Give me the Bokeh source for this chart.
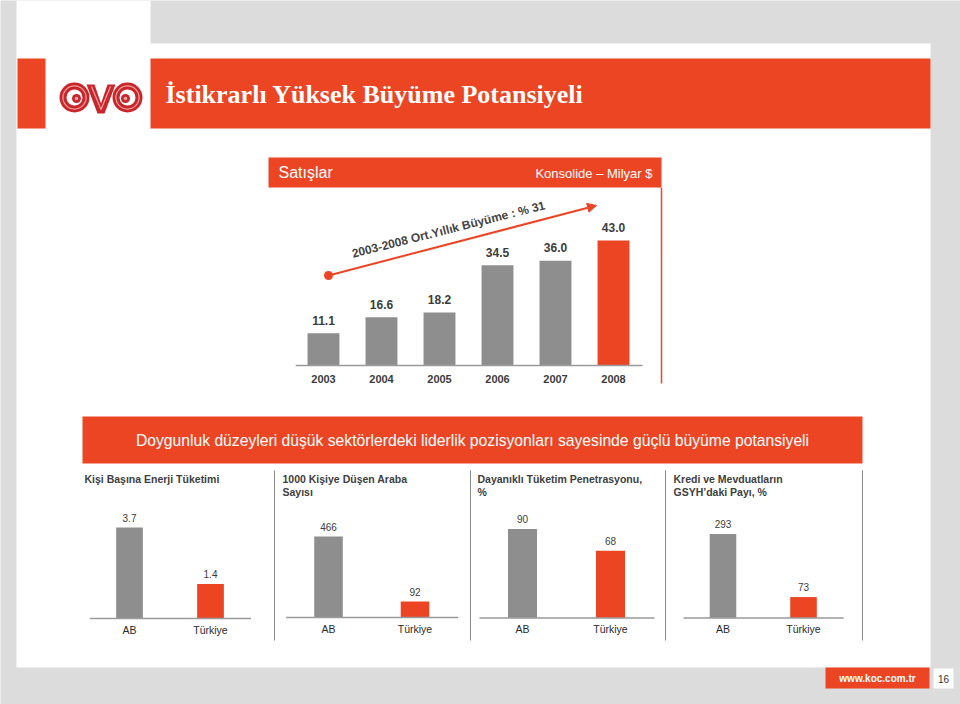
from bokeh.plotting import figure
from bokeh.models import Range1d, Arrow, NormalHead, ColumnDataSource
from bokeh.core.properties import value
from bokeh.embed import file_html
from bokeh.resources import INLINE

# ---------------- data ----------------
title = "İstikrarlı Yüksek Büyüme Potansiyeli"
sales_header = "Satışlar"
sales_unit = "Konsolide – Milyar $"
growth_note = "2003-2008 Ort.Yıllık Büyüme : % 31"
years = ["2003", "2004", "2005", "2006", "2007", "2008"]
sales = [11.1, 16.6, 18.2, 34.5, 36.0, 43.0]
headline = "Doygunluk düzeyleri düşük sektörlerdeki liderlik pozisyonları sayesinde güçlü büyüme potansiyeli"
countries = ["AB", "Türkiye"]
energy = [3.7, 1.4]
cars = [466, 92]
durables = [90, 68]
credit = [293, 73]
panel_titles = [
    ["Kişi Başına Enerji Tüketimi"],
    ["1000 Kişiye Düşen Araba", "Sayısı"],
    ["Dayanıklı Tüketim Penetrasyonu,", "%"],
    ["Kredi ve Mevduatların", "GSYH’daki Payı, %"],
]
footer_url = "www.koc.com.tr"
page_no = "16"

# ---------------- style ----------------
W, H = 960, 704
ORANGE = "#EB4524"
GRAY_BAR = "#8E8E8E"
BG = "#DCDCDC"
TXT = "#3C3C3C"
SANS = value("Liberation Sans")
SERIF = value("Liberation Serif")

p = figure(width=W, height=H, x_range=Range1d(0, W), y_range=Range1d(H, 0),
           output_backend="svg", toolbar_location=None, min_border=0,
           x_axis_type=None, y_axis_type=None)
p.background_fill_color = BG
p.border_fill_color = BG
p.outline_line_color = None

def box(l, r, t, b, color):
    p.quad(left=[l], right=[r], top=[t], bottom=[b], fill_color=color, line_color=None)

def txt(x, y, s, size, color=TXT, style="normal", align="left", baseline="middle", font=SANS, angle=0):
    p.text(x=[x], y=[y], text=[s], text_font=font, text_font_size=size, text_color=color,
           text_font_style=style, text_align=align, text_baseline=baseline,
           angle=angle, angle_units="deg")

# slide background
box(16, 150, 0, 44, "white")
box(16, 930, 43, 667, "white")

# header band
box(17, 45, 58, 128, ORANGE)
box(150, 930, 58, 128, ORANGE)
txt(165, 94, title, "26px", color="white", style="bold", font=SERIF)

# logo (decorative)
LOGO_RED = "#C9262C"
LOGO_LIGHT = "#F2A3A0"
for cx in (74, 127):
    p.annulus(x=[cx], y=[97], inner_radius=8, outer_radius=15, fill_color=LOGO_RED, line_color=None)
    p.annulus(x=[cx], y=[97], inner_radius=11, outer_radius=12.2, fill_color=LOGO_LIGHT, line_color=None)
    p.circle(x=[cx + (2 if cx < 100 else -2)], y=[98], radius=4.5, fill_color=LOGO_RED, line_color=None)
    p.circle(x=[cx + (2 if cx < 100 else -2)], y=[98], radius=1.8, fill_color=LOGO_LIGHT, line_color=None)
p.patch(x=[86, 94, 100.5, 107, 115, 104, 97], y=[84, 84, 103, 84, 84, 113, 113],
        fill_color=LOGO_RED, line_color=None)
p.line(x=[91, 100.5, 110], y=[86, 109, 86], line_color=LOGO_LIGHT, line_width=1.2)

# ---------------- sales chart ----------------
box(268, 661, 157, 187, ORANGE)
txt(278, 172, sales_header, "16px", color="white")
txt(652, 173, sales_unit, "13px", color="white", align="right")
p.segment(x0=[661], y0=[187], x1=[661], y1=[383], line_color=ORANGE, line_width=1.5)

x_ranges, y_ranges = {}, {}

def chart_ranges(name, first_center, step, base_px, px_per_unit):
    x_ranges[name] = Range1d(start=(0 - first_center) / step, end=(W - first_center) / step)
    y_ranges[name] = Range1d(start=(base_px - H) / px_per_unit, end=base_px / px_per_unit)

chart_ranges("sales", 323, 58, 365, 125.0 / max(sales))

# panel layouts: (AB center px, step px, baseline px, max bar height px)
panel_data = [energy, cars, durables, credit]
panel_fmt = ["{:.1f}", "{:d}", "{:d}", "{:d}"]
panel_geo = [(129, 81, 618, 91), (328, 86.5, 617, 81), (522, 88, 617.5, 89), (722.5, 80.5, 617.5, 84)]
for k, (vals, geo) in enumerate(zip(panel_data, panel_geo)):
    c0, st, base, hmax = geo
    chart_ranges(f"panel{k}", c0, st, base, hmax / max(vals))

p.extra_x_ranges = x_ranges
p.extra_y_ranges = y_ranges

# sales bars
idx = list(range(len(years)))
src = ColumnDataSource(dict(
    x=idx, top=sales, year=years,
    label=[f"{v:.1f}" for v in sales],
    color=[GRAY_BAR] * (len(sales) - 1) + [ORANGE],
))
p.vbar(x="x", top="top", bottom=0, width=0.55, fill_color="color", line_color=None,
       source=src, x_range_name="sales", y_range_name="sales")
p.segment(x0=[-0.48], y0=[0], x1=[len(years) - 0.5], y1=[0], line_color="#9A9A9A", line_width=1.5,
          x_range_name="sales", y_range_name="sales")
p.text(x="x", y="top", text="label", source=src, x_range_name="sales", y_range_name="sales",
       text_font=SANS, text_font_size="12px", text_font_style="bold", text_color=TXT,
       text_align="center", text_baseline="middle", y_offset=-13)
p.text(x="x", y=0, text="year", source=src, x_range_name="sales", y_range_name="sales",
       text_font=SANS, text_font_size="11px", text_font_style="bold", text_color=TXT,
       text_align="center", text_baseline="middle", y_offset=13)

# growth arrow
p.add_layout(Arrow(end=NormalHead(size=9, fill_color=ORANGE, line_color=ORANGE),
                   x_start=328, y_start=275, x_end=596, y_end=205,
                   line_color=ORANGE, line_width=2))
p.scatter(x=[328], y=[275], size=9, marker="circle", fill_color=ORANGE, line_color=None)
txt(448, 229, growth_note, "12px", style="bold", align="center", angle=14.2, color="#444444")

# ---------------- headline band ----------------
box(82, 862, 416, 463, ORANGE)
txt(472, 440, headline, "15.7px", color="white", align="center")

# panel separators and titles
for xs in (274, 470, 665, 862):
    p.segment(x0=[xs], y0=[470], x1=[xs], y1=[640], line_color="#8A8A8A", line_width=1)
title_x = [84, 282, 477, 673]
for tx, lines in zip(title_x, panel_titles):
    for j, line in enumerate(lines):
        txt(tx, 478 + 13 * j, line, "10.5px", style="bold", color="#404040")

# panel bars
for k, vals in enumerate(panel_data):
    name = f"panel{k}"
    s = ColumnDataSource(dict(
        x=[0, 1], top=vals, cat=countries,
        label=[panel_fmt[k].format(v) for v in vals],
        color=[GRAY_BAR, ORANGE],
    ))
    p.vbar(x="x", top="top", bottom=0, width=0.33, fill_color="color", line_color=None,
           source=s, x_range_name=name, y_range_name=name)
    p.segment(x0=[-0.49], y0=[0], x1=[1.5], y1=[0], line_color="#9A9A9A", line_width=1.3,
              x_range_name=name, y_range_name=name)
    p.text(x="x", y="top", text="label", source=s, x_range_name=name, y_range_name=name,
           text_font=SANS, text_font_size="10px", text_color=TXT,
           text_align="center", text_baseline="middle", y_offset=-10)
    p.text(x="x", y=0, text="cat", source=s, x_range_name=name, y_range_name=name,
           text_font=SANS, text_font_size="10.5px", text_color="#2A2A2A",
           text_align="center", text_baseline="middle", y_offset=11)

# footer
box(825, 929, 667, 688, ORANGE)
txt(877, 678, footer_url, "10px", color="white", style="bold", align="center")
box(933, 953, 668, 688, "white")
txt(943, 678, page_no, "10px", color="#333333", align="center")

open("out.html", "w").write(file_html(p, INLINE))
